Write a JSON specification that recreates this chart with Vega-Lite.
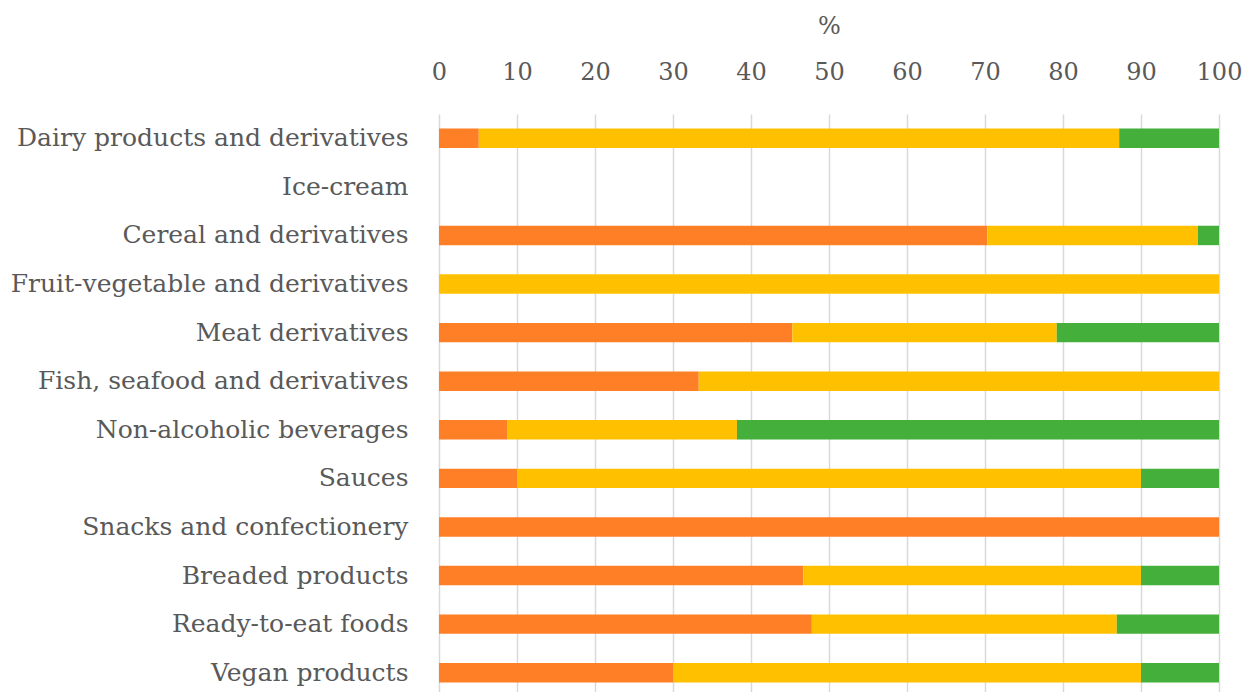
{
  "$schema": "https://vega.github.io/schema/vega-lite/v6.json",
  "autosize": {"type": "none"},
  "padding": {"left": 439, "top": 114, "right": 31, "bottom": 0},
  "width": 780,
  "height": 583,
  "background": "white",
  "data": {
    "values": [
      {"category": "Dairy products and derivatives", "tier": 1, "share": 5.1},
      {"category": "Dairy products and derivatives", "tier": 2, "share": 82.1},
      {"category": "Dairy products and derivatives", "tier": 3, "share": 12.8},
      {"category": "Cereal and derivatives", "tier": 1, "share": 70.3},
      {"category": "Cereal and derivatives", "tier": 2, "share": 27.0},
      {"category": "Cereal and derivatives", "tier": 3, "share": 2.7},
      {"category": "Fruit-vegetable and derivatives", "tier": 2, "share": 100},
      {"category": "Meat derivatives", "tier": 1, "share": 45.3},
      {"category": "Meat derivatives", "tier": 2, "share": 33.9},
      {"category": "Meat derivatives", "tier": 3, "share": 20.8},
      {"category": "Fish, seafood and derivatives", "tier": 1, "share": 33.3},
      {"category": "Fish, seafood and derivatives", "tier": 2, "share": 66.7},
      {"category": "Non-alcoholic beverages", "tier": 1, "share": 8.8},
      {"category": "Non-alcoholic beverages", "tier": 2, "share": 29.4},
      {"category": "Non-alcoholic beverages", "tier": 3, "share": 61.8},
      {"category": "Sauces", "tier": 1, "share": 10},
      {"category": "Sauces", "tier": 2, "share": 80},
      {"category": "Sauces", "tier": 3, "share": 10},
      {"category": "Snacks and confectionery", "tier": 1, "share": 100},
      {"category": "Breaded products", "tier": 1, "share": 46.7},
      {"category": "Breaded products", "tier": 2, "share": 43.3},
      {"category": "Breaded products", "tier": 3, "share": 10},
      {"category": "Ready-to-eat foods", "tier": 1, "share": 47.8},
      {"category": "Ready-to-eat foods", "tier": 2, "share": 39.1},
      {"category": "Ready-to-eat foods", "tier": 3, "share": 13.1},
      {"category": "Vegan products", "tier": 1, "share": 30},
      {"category": "Vegan products", "tier": 2, "share": 60},
      {"category": "Vegan products", "tier": 3, "share": 10}
    ]
  },
  "mark": {"type": "bar"},
  "encoding": {
    "y": {
      "field": "category",
      "type": "nominal",
      "scale": {
        "domain": [
          "Dairy products and derivatives",
          "Ice-cream",
          "Cereal and derivatives",
          "Fruit-vegetable and derivatives",
          "Meat derivatives",
          "Fish, seafood and derivatives",
          "Non-alcoholic beverages",
          "Sauces",
          "Snacks and confectionery",
          "Breaded products",
          "Ready-to-eat foods",
          "Vegan products"
        ],
        "paddingInner": 0.6,
        "paddingOuter": 0.3
      },
      "axis": {
        "title": null,
        "domain": false,
        "ticks": false,
        "grid": false,
        "labelFont": "DejaVu Serif",
        "labelFontSize": 25,
        "labelColor": "#595959",
        "labelPadding": 31,
        "labelLimit": 0
      }
    },
    "x": {
      "field": "share",
      "type": "quantitative",
      "stack": "zero",
      "scale": {"domain": [0, 100], "nice": false},
      "axis": {
        "orient": "top",
        "title": "%",
        "titleFont": "DejaVu Serif",
        "titleFontSize": 24,
        "titleFontWeight": "normal",
        "titleColor": "#595959",
        "titlePadding": 22,
        "values": [0, 10, 20, 30, 40, 50, 60, 70, 80, 90, 100],
        "domain": false,
        "ticks": false,
        "labelFont": "DejaVu Serif",
        "labelFontSize": 24,
        "labelColor": "#595959",
        "labelPadding": 30,
        "labelFlush": false,
        "grid": true,
        "gridColor": "#d9d9d9",
        "gridWidth": 1.5
      }
    },
    "order": {"field": "tier", "type": "ordinal"},
    "color": {
      "field": "tier",
      "type": "nominal",
      "scale": {"domain": [1, 2, 3], "range": ["#FF7F27", "#FFC000", "#44AF3B"]},
      "legend": null
    }
  },
  "config": {"view": {"stroke": null}}
}
